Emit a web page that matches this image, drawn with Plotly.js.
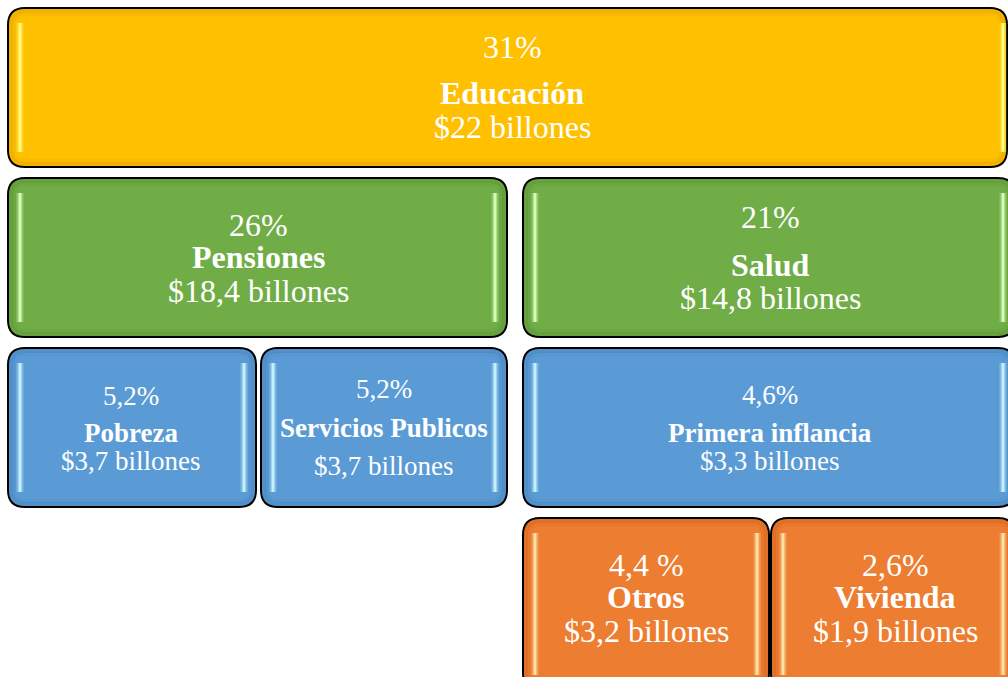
<!DOCTYPE html>
<html>
<head>
<meta charset="utf-8">
<script src="https://cdn.plot.ly/plotly-3.0.1.min.js"></script>
<style>html,body{margin:0;padding:0;background:#fff;}#chart{width:1008px;height:677px;}</style>
</head>
<body>
<div id="chart"></div>
<script>
// ---- data ----
const categories = ['Educación', 'Pensiones', 'Salud', 'Pobreza', 'Servicios Publicos', 'Primera inflancia', 'Otros', 'Vivienda'];
const percentLabels = ['31%', '26%', '21%', '5,2%', '5,2%', '4,6%', '4,4 %', '2,6%'];
const amountLabels = ['$22 billones', '$18,4 billones', '$14,8 billones', '$3,7 billones', '$3,7 billones', '$3,3 billones', '$3,2 billones', '$1,9 billones'];
const groups = ['g1', 'g2', 'g2', 'g3', 'g3', 'g3', 'g4', 'g4'];

// ---- layout of the boxes (positions / styles) ----
const cells = [
  {x0: 8,   x1: 1007, y0: 8,   y1: 167, hlR: 1003, cx: 512, lines: [39, 85, 119], fs: 32},
  {x0: 8,   x1: 507,  y0: 178, y1: 337, cx: 258, lines: [47, 79, 113], fs: 32},
  {x0: 523, x1: 1015, y0: 178, y1: 337, hlR: 1003, cx: 770, lines: [39, 87, 120], fs: 32},
  {x0: 8,   x1: 256,  y0: 348, y1: 507, cx: 131, lines: [48, 85, 113], fs: 27},
  {x0: 261, x1: 507,  y0: 348, y1: 507, cx: 384, lines: [41, 80, 118], fs: 27},
  {x0: 523, x1: 1015, y0: 348, y1: 507, hlR: 1003, cx: 770, lines: [47, 85, 113], fs: 27},
  {x0: 523, x1: 769,  y0: 518, y1: 690, cx: 646, lines: [47, 79, 113], fs: 32},
  {x0: 771, x1: 1015, y0: 518, y1: 690, hlR: 1003, cx: 895, lines: [47, 79, 113], fs: 32}
];
const styles = {
  g1: {fill: '#FFC000', edge: '#D99A00', glow: '#FFFF80'},
  g2: {fill: '#70AD47', edge: '#558C30', glow: '#D8FFB8'},
  g3: {fill: '#5B9BD5', edge: '#437EB8', glow: '#C8F4FF'},
  g4: {fill: '#ED7D31', edge: '#C9601A', glow: '#FFE6A8'}
};
const FONT = '"Liberation Serif", "Times New Roman", Times, serif';

function rr(x0, y0, x1, y1, r) {
  return `M ${x0 + r},${y0} L ${x1 - r},${y0} Q ${x1},${y0} ${x1},${y0 + r} L ${x1},${y1 - r} Q ${x1},${y1} ${x1 - r},${y1} ` +
         `L ${x0 + r},${y1} Q ${x0},${y1} ${x0},${y1 - r} L ${x0},${y0 + r} Q ${x0},${y0} ${x0 + r},${y0} Z`;
}

const shapes = [];
const annotations = [];
categories.forEach((name, i) => {
  const c = cells[i];
  const st = styles[groups[i]];
  // body
  shapes.push({type: 'path', xref: 'x', yref: 'y', path: rr(c.x0, c.y0, c.x1, c.y1, 17),
               fillcolor: st.fill, line: {color: '#000', width: 2}, layer: 'above'});
  // soft inner rim
  shapes.push({type: 'path', xref: 'x', yref: 'y', path: rr(c.x0 + 3, c.y0 + 3, c.x1 - 3, c.y1 - 3, 14),
               fillcolor: 'rgba(0,0,0,0)', line: {color: st.edge, width: 4}, opacity: 0.35, layer: 'above'});
  shapes.push({type: 'path', xref: 'x', yref: 'y', path: rr(c.x0 + 6, c.y0 + 6, c.x1 - 6, c.y1 - 6, 11),
               fillcolor: 'rgba(0,0,0,0)', line: {color: st.edge, width: 4}, opacity: 0.15, layer: 'above'});
  // highlights
  const hl = [c.x0 + 12, c.hlR !== undefined ? c.hlR : c.x1 - 12];
  hl.forEach(hx => {
    shapes.push({type: 'line', xref: 'x', yref: 'y', x0: hx, x1: hx, y0: c.y0 + 15, y1: c.y1 - 15,
                 line: {color: st.glow, width: 7}, opacity: 0.3, layer: 'above'});
    shapes.push({type: 'line', xref: 'x', yref: 'y', x0: hx, x1: hx, y0: c.y0 + 15, y1: c.y1 - 15,
                 line: {color: st.glow, width: 3}, opacity: 0.95, layer: 'above'});
  });
  const texts = [percentLabels[i], '<b>' + name + '</b>', amountLabels[i]];
  texts.forEach((t, k) => {
    annotations.push({x: c.cx, y: c.y0 + c.lines[k], xref: 'x', yref: 'y', text: t, showarrow: false,
                      xanchor: 'center', yanchor: 'middle',
                      font: {family: FONT, size: c.fs, color: '#FFFFFF'}});
  });
});

const layout = {
  width: 1008, height: 677,
  margin: {l: 0, r: 0, t: 0, b: 0, pad: 0},
  paper_bgcolor: '#FFFFFF', plot_bgcolor: '#FFFFFF',
  xaxis: {range: [0, 1008], visible: false, fixedrange: true},
  yaxis: {range: [677, 0], visible: false, fixedrange: true},
  showlegend: false,
  shapes: shapes,
  annotations: annotations
};
Plotly.newPlot('chart', [{x: [0], y: [0], mode: 'markers', marker: {opacity: 0}, hoverinfo: 'skip'}], layout,
  {displayModeBar: false, staticPlot: true});
</script>
</body>
</html>
